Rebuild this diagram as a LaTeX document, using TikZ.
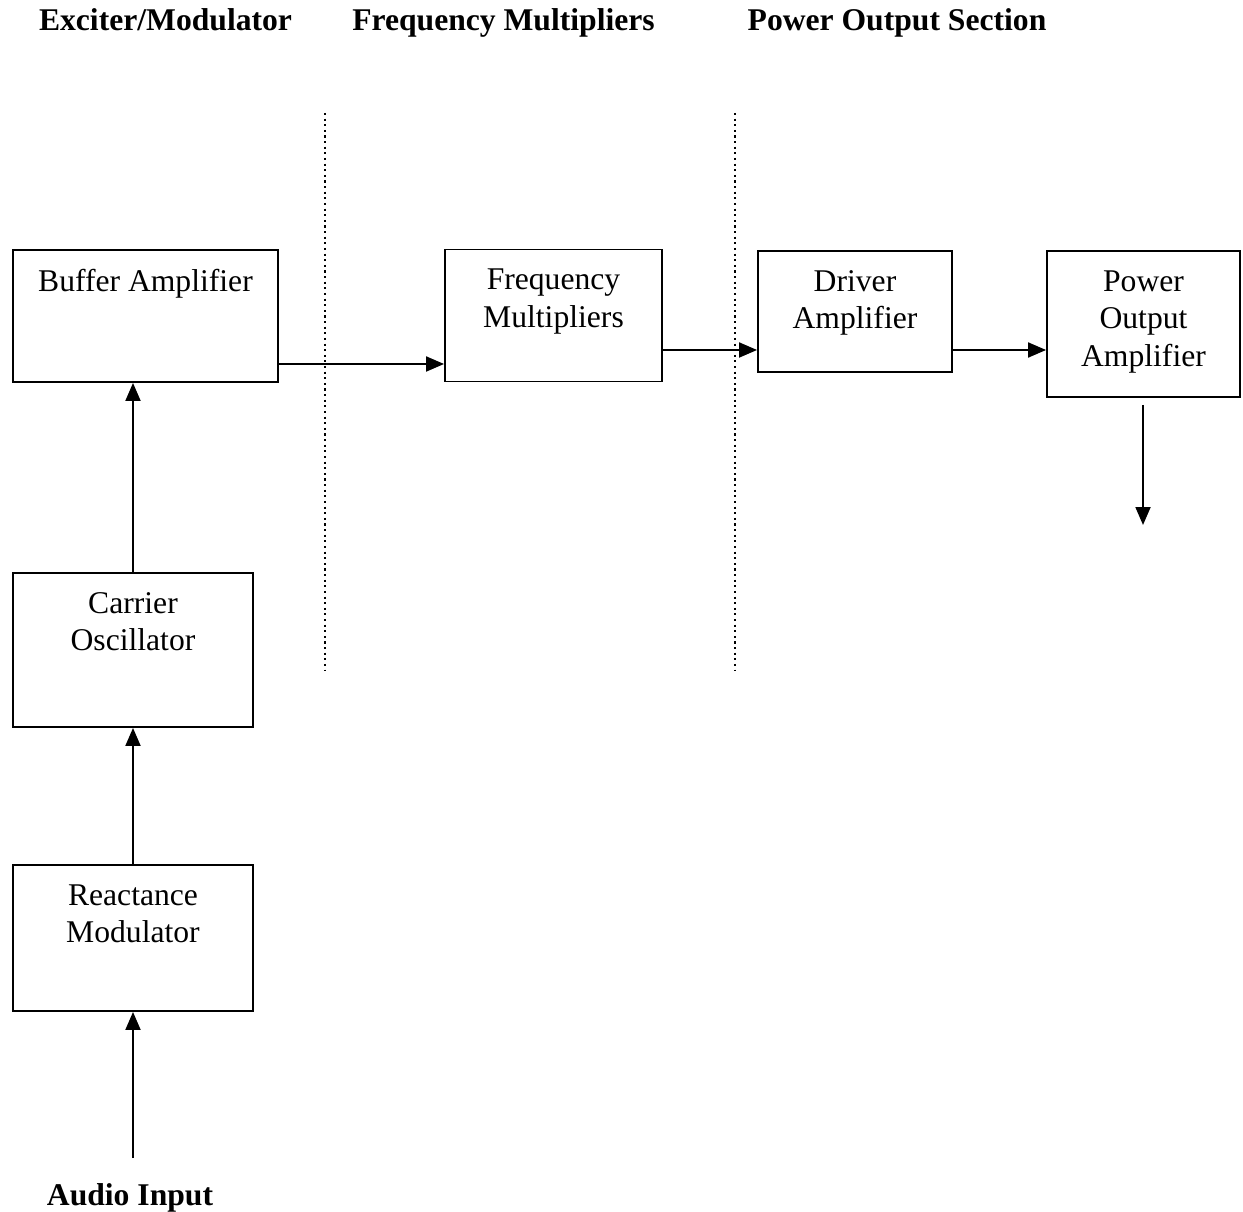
\documentclass[tikz,border=0pt]{standalone}
\usepackage{fontspec}
\setmainfont{Liberation Serif}
\usetikzlibrary{arrows.meta}
\tikzset{
  blk/.style = {draw, black, line width = 1.1pt, inner sep = 0pt},
  lbl/.style = {anchor = north, inner sep = 0pt, yshift = -0.4cm, align = center, font = \fontsize{18}{21.4}\selectfont},
  hdr/.style = {font = \fontsize{18}{21.4}\selectfont\bfseries, inner sep = 0pt, anchor = base},
  arr/.style = {black, line width = 1.1pt, -{Triangle[length = 0.36cm, width = 0.3cm]}},
  sep/.style = {black, dotted, line width = 1.2pt}
}
\begin{document}
\begin{tikzpicture} [x = 0.02cm, y = -0.02cm]
\useasboundingbox (0, 0) rectangle (1243, 1212);
\node[hdr] (h1) at (165.5, 31){Exciter/Modulator};
\node[hdr] (h2) at (503.5, 31){Frequency Multipliers};
\node[hdr] (h3) at (897, 31){Power Output Section};
\draw[sep] (325, 113) -- (325, 670);
\draw[sep] (735, 113) -- (735, 670);
\node[blk, minimum width = 5.30cm, minimum height = 2.64cm, label = {[lbl]north:Buffer Amplifier}] (buffer) at (145.5, 316){};
\node[blk, minimum width = 4.34cm, minimum height = 2.64cm, label = {[lbl]north:Frequency\\Multipliers}] (freq) at (553.5, 315.5){};
\node[blk, minimum width = 3.88cm, minimum height = 2.42cm, label = {[lbl]north:Driver\\Amplifier}] (driver) at (855, 311.5){};
\node[blk, minimum width = 3.86cm, minimum height = 2.92cm, label = {[lbl]north:Power\\Output\\Amplifier}] (power) at (1143.5, 324){};
\node[blk, minimum width = 4.80cm, minimum height = 3.08cm, label = {[lbl]north:Carrier\\Oscillator}] (carrier) at (133, 650){};
\node[blk, minimum width = 4.80cm, minimum height = 2.92cm, label = {[lbl]north:Reactance\\Modulator}] (react) at (133, 938){};
\node[hdr] (audio) at (130, 1205){Audio Input};
\coordinate (ain) at (133, 1158);
\coordinate (out) at (1143, 525);
\draw[arr] (ain) -- (react.south -| ain);
\draw[arr] (react.north) -- (carrier.south);
\draw[arr] (carrier.north) -- (carrier.north |- buffer.south);
\draw[arr] (buffer.east |- 0, 364) -- (freq.west |- 0, 364);
\draw[arr] (freq.east |- 0, 350) -- (driver.west |- 0, 350);
\draw[arr] (driver.east |- 0, 350) -- (power.west |- 0, 350);
\draw[arr] (out |- 0, 405) -- (out);
\end{tikzpicture}
\end{document}
